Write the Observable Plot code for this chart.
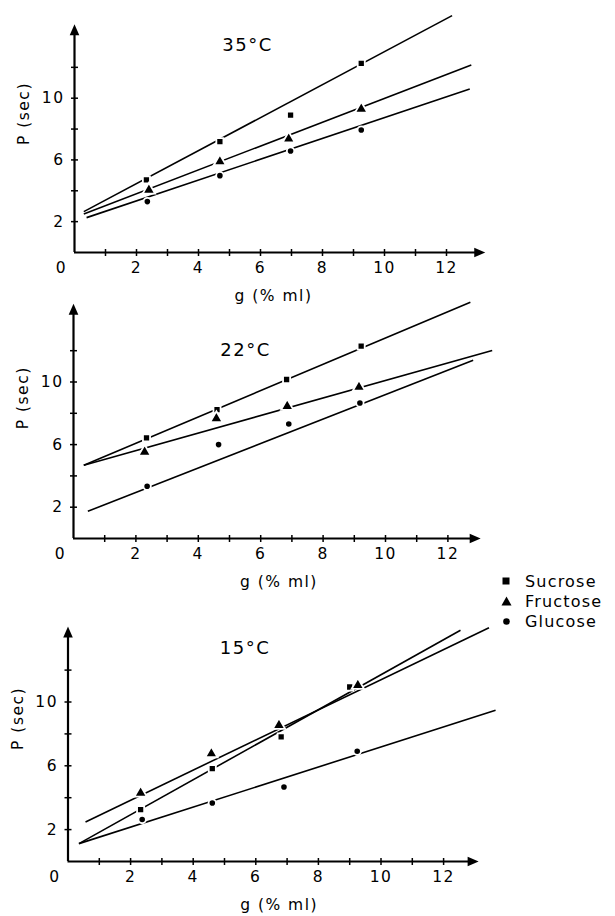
<!DOCTYPE html>
<html>
<head>
<meta charset="utf-8">
<script src="https://cdn.jsdelivr.net/npm/d3@7"></script>
<script src="https://cdn.jsdelivr.net/npm/@observablehq/plot@0.6"></script>
<style>
  html, body { margin: 0; padding: 0; background: #fff; }
  #chart { position: relative; width: 615px; height: 916px; font-family: "DejaVu Sans", sans-serif; color: #000; }
  #chart svg.plot { position: absolute; left: 0; }
  #legend { position: absolute; left: 500px; top: 571px; font-size: 16px; letter-spacing: 1.2px; }
  #legend .row { display: flex; align-items: center; height: 20px; }
  #legend .row svg { width: 13px; height: 13px; margin-right: 12px; }
</style>
</head>
<body>
<div id="chart"></div>
<script>
// ---------------- data ----------------
const panels = ["35°C", "22°C", "15°C"];
const sugars = ["Sucrose", "Fructose", "Glucose"];
const symbols = ["square", "triangle", "circle"];

// measured points: x = g (% ml), y = P (sec)
const suc35x = [2.32, 4.69, 6.97, 9.25], suc35y = [4.7, 7.18, 8.9, 12.26];
const fru35x = [2.40, 4.69, 6.91, 9.25], fru35y = [4.05, 5.89, 7.36, 9.3];
const glu35x = [2.35, 4.69, 6.97, 9.25], glu35y = [3.3, 4.98, 6.58, 7.94];

const suc22x = [2.34, 4.60, 6.83, 9.22], suc22y = [6.43, 8.24, 10.16, 12.29];
const fru22x = [2.28, 4.58, 6.85, 9.15], fru22y = [5.53, 7.67, 8.45, 9.67];
const glu22x = [2.36, 4.65, 6.90, 9.18], glu22y = [3.34, 6.0, 7.32, 8.66];

const suc15x = [2.32, 4.61, 6.81, 9.00], suc15y = [3.25, 5.82, 7.81, 10.94];
const fru15x = [2.32, 4.58, 6.74, 9.26], fru15y = [4.29, 6.76, 8.54, 11.05];
const glu15x = [2.37, 4.61, 6.90, 9.24], glu15y = [2.63, 3.67, 4.67, 6.91];

// drawn fit lines: [x1, y1, x2, y2]
const fit35 = [[0.30, 2.65, 12.18, 15.35], [0.30, 2.50, 12.80, 12.15], [0.39, 2.26, 12.75, 10.60]];
const fit22 = [[0.33, 4.68, 12.72, 15.10], [0.33, 4.68, 13.42, 12.01], [0.46, 1.74, 12.81, 11.39]];
const fit15 = [[0.35, 1.12, 12.54, 14.50], [0.56, 2.48, 13.45, 14.66], [0.35, 1.12, 13.66, 9.48]];

// axes
const xTicks = [1, 2, 3, 4, 5, 6, 7, 8, 9, 10, 11, 12];
const xTickLabels = [2, 4, 6, 8, 10, 12];
const yTicks = [2, 4, 6, 8, 10, 12];
const yTickLabels = [2, 6, 10];
const axisEnds = [[13.25, 14.8], [13.05, 15.0], [13.12, 14.73]]; // arrow tips (x, y)
const xLabel = "g (% ml)";
const yLabel = "P (sec)";

// ---------------- layout (pixels) ----------------
const layouts = [
  {top: 0,   height: 310, x0: 74,   xUnit: 31.0, y0: 252, yUnit: 15.43, tempDx: 173, tempDy: 40,  xLabDx: -18},
  {top: 283, height: 310, x0: 73,   xUnit: 31.2, y0: 255, yUnit: 15.65, tempDx: 172, tempDy: 62,  xLabDx: -13},
  {top: 600, height: 316, x0: 67.5, xUnit: 31.3, y0: 261, yUnit: 15.95, tempDx: 177, tempDy: 42,  xLabDx: -8}
];

const pointSets = [
  [[suc35x, suc35y], [fru35x, fru35y], [glu35x, glu35y]],
  [[suc22x, suc22y], [fru22x, fru22y], [glu22x, glu22y]],
  [[suc15x, suc15y], [fru15x, fru15y], [glu15x, glu15y]]
];
const fits = [fit35, fit22, fit15];

// custom glyphs
const triRight = {draw(c) { c.moveTo(0, 0); c.lineTo(-11, -4.8); c.lineTo(-11, 4.8); c.closePath(); }};
const triUp = {draw(c) { c.moveTo(0, 0); c.lineTo(-4.8, 11); c.lineTo(4.8, 11); c.closePath(); }};
const vTick = {draw(c) { c.moveTo(0, -3.5); c.lineTo(0, 3.5); }};
const hTick = {draw(c) { c.moveTo(-3.5, 0); c.lineTo(3.5, 0); }};

const W = 615;
const X_MAX = 14, Y_MAX = 16;
const container = document.getElementById("chart");

panels.forEach((temp, i) => {
  const L = layouts[i];
  const points = [];
  pointSets[i].forEach(([xs, ys], s) => xs.forEach((x, k) => points.push({sugar: sugars[s], x, y: ys[k]})));
  const lines = fits[i].map((f, s) => ({sugar: sugars[s], x1: f[0], y1: f[1], x2: f[2], y2: f[3]}));
  const [xEnd, yEnd] = axisEnds[i];
  const yZeroPx = L.y0;
  const marginTop = yZeroPx - Y_MAX * L.yUnit;
  const marginBottom = L.height - yZeroPx;
  const marginLeft = L.x0;
  const marginRight = W - L.x0 - X_MAX * L.xUnit;

  const dotMarks = sugars.map((sg, s) => Plot.dot(points.filter(d => d.sugar === sg), {
    x: "x", y: "y", symbol: symbols[s], r: [4.0, 4.6, 3.7][s],
    fill: "black", stroke: "white", strokeWidth: 1.8
  }));

  const svg = Plot.plot({
    width: W, height: L.height,
    marginTop, marginBottom, marginLeft, marginRight,
    x: {domain: [0, X_MAX], axis: null},
    y: {domain: [0, Y_MAX], axis: null},
    marks: [
      // fitted lines
      Plot.link(lines, {x1: "x1", y1: "y1", x2: "x2", y2: "y2", stroke: "black", strokeWidth: 1.6}),
      ...dotMarks,
      // axes
      Plot.ruleY([0], {x1: 0, x2: xEnd - 0.2, stroke: "black", strokeWidth: 2.2}),
      Plot.ruleX([0], {y1: 0, y2: yEnd - 0.3, stroke: "black", strokeWidth: 2.2}),
      Plot.dot([[xEnd, 0]], {x: d => d[0], y: d => d[1], symbol: triRight, fill: "black", stroke: "none"}),
      Plot.dot([[0, yEnd]], {x: d => d[0], y: d => d[1], symbol: triUp, fill: "black", stroke: "none"}),
      Plot.dot(xTicks, {x: d => d, y: 0, symbol: vTick, stroke: "black", fill: "none", strokeWidth: 1.5}),
      Plot.dot(yTicks, {x: 0, y: d => d, symbol: hTick, stroke: "black", fill: "none", strokeWidth: 1.5}),
      Plot.text(xTickLabels, {x: d => d, y: 0, text: d => String(d), dy: 16, lineAnchor: "middle", fontSize: 15.5}),
      Plot.text([0], {x: d => d, y: d => d, text: d => String(d), dx: -13, dy: 16, lineAnchor: "middle", fontSize: 15.5}),
      Plot.text(yTickLabels, {x: 0, y: d => d, text: d => String(d), dx: -10, textAnchor: "end", lineAnchor: "middle", fontSize: 15.5}),
      // axis titles
      Plot.text([xLabel], {frameAnchor: "bottom", text: d => d, dx: L.xLabDx, dy: 44, lineAnchor: "middle", fontSize: 15.5}),
      Plot.text([yLabel], {frameAnchor: "left", text: d => d, dx: -50, dy: 16, rotate: -90, lineAnchor: "middle", fontSize: 15.5}),
      // panel temperature
      Plot.text([temp], {frameAnchor: "top-left", text: d => d, dx: L.tempDx, dy: L.tempDy, textAnchor: "middle", lineAnchor: "middle", fontSize: 18})
    ]
  });
  svg.classList.add("plot");
  svg.style.top = L.top + "px";
  svg.style.background = "transparent";
  svg.style.overflow = "visible";
  svg.style.fontFamily = "'DejaVu Sans', sans-serif";
  svg.style.letterSpacing = "1.5px";
  svg.style.maxWidth = "none";
  svg.style.color = "black";
  container.appendChild(svg);
});

// legend
const legend = document.createElement("div");
legend.id = "legend";
const glyphs = {
  square: '<rect x="2.5" y="2.5" width="7" height="7" fill="black"/>',
  triangle: '<path d="M6.5,1.5 L11.5,10.5 L1.5,10.5 Z" fill="black"/>',
  circle: '<circle cx="6.5" cy="6.5" r="3.3" fill="black"/>'
};
sugars.forEach((sg, s) => {
  const row = document.createElement("div");
  row.className = "row";
  row.innerHTML = `<svg viewBox="0 0 13 13">${glyphs[symbols[s]]}</svg><span>${sg}</span>`;
  legend.appendChild(row);
});
container.appendChild(legend);
</script>
</body>
</html>
